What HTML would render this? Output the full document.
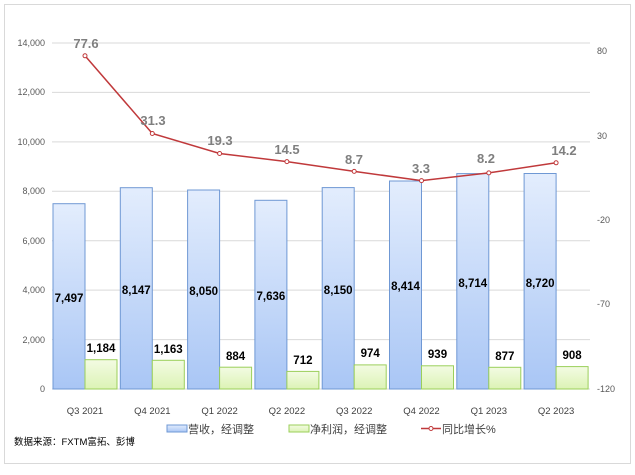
<!DOCTYPE html>
<html><head><meta charset="utf-8"><style>body{margin:0;background:#fff}</style></head><body>
<svg width="635" height="470" xmlns="http://www.w3.org/2000/svg" font-family="'Liberation Sans','Noto Sans CJK SC',sans-serif">
<defs>
<linearGradient id="b" x1="0" y1="0" x2="0" y2="1"><stop offset="0" stop-color="#e3edfd"/><stop offset="1" stop-color="#a9c6f5"/></linearGradient>
<linearGradient id="g" x1="0" y1="0" x2="0" y2="1"><stop offset="0" stop-color="#f3fbe3"/><stop offset="1" stop-color="#dcf3b5"/></linearGradient>
</defs>
<rect x="4.5" y="4.5" width="626" height="459" fill="#fff" stroke="#d9d9d9"/>
<g stroke="#d9d9d9" stroke-width="1">
<line x1="52" x2="590" y1="43" y2="43"/><line x1="52" x2="590" y1="92.4" y2="92.4"/><line x1="52" x2="590" y1="141.9" y2="141.9"/><line x1="52" x2="590" y1="191.3" y2="191.3"/><line x1="52" x2="590" y1="240.7" y2="240.7"/><line x1="52" x2="590" y1="290.1" y2="290.1"/><line x1="52" x2="590" y1="339.6" y2="339.6"/><line x1="52" x2="590" y1="389" y2="389"/>
</g>
<g font-size="9" fill="#595959" text-anchor="end">
<text x="45" y="46">14,000</text><text x="45" y="95">12,000</text><text x="45" y="145">10,000</text><text x="45" y="194">8,000</text><text x="45" y="244">6,000</text><text x="45" y="293">4,000</text><text x="45" y="343">2,000</text><text x="45" y="392">0</text>
</g>
<g font-size="9" fill="#595959">
<text x="597" y="54">80</text><text x="597" y="139">30</text><text x="597" y="223">-20</text><text x="597" y="307">-70</text><text x="597" y="392">-120</text>
</g>
<g stroke-width="1">
<rect x="53" y="203.7" width="32" height="185.3" fill="url(#b)" stroke="#6f98d4"/>
<rect x="120.3" y="187.7" width="32" height="201.3" fill="url(#b)" stroke="#6f98d4"/>
<rect x="187.6" y="190" width="32" height="199" fill="url(#b)" stroke="#6f98d4"/>
<rect x="254.9" y="200.3" width="32" height="188.7" fill="url(#b)" stroke="#6f98d4"/>
<rect x="322.2" y="187.6" width="32" height="201.4" fill="url(#b)" stroke="#6f98d4"/>
<rect x="389.5" y="181" width="32" height="208" fill="url(#b)" stroke="#6f98d4"/>
<rect x="456.8" y="173.6" width="32" height="215.4" fill="url(#b)" stroke="#6f98d4"/>
<rect x="524.1" y="173.5" width="32" height="215.5" fill="url(#b)" stroke="#6f98d4"/>
<rect x="85" y="359.7" width="32" height="29.3" fill="url(#g)" stroke="#9bcf5a"/>
<rect x="152.3" y="360.3" width="32" height="28.7" fill="url(#g)" stroke="#9bcf5a"/>
<rect x="219.6" y="367.2" width="32" height="21.8" fill="url(#g)" stroke="#9bcf5a"/>
<rect x="286.9" y="371.4" width="32" height="17.6" fill="url(#g)" stroke="#9bcf5a"/>
<rect x="354.2" y="364.9" width="32" height="24.1" fill="url(#g)" stroke="#9bcf5a"/>
<rect x="421.5" y="365.8" width="32" height="23.2" fill="url(#g)" stroke="#9bcf5a"/>
<rect x="488.8" y="367.3" width="32" height="21.7" fill="url(#g)" stroke="#9bcf5a"/>
<rect x="556.1" y="366.6" width="32" height="22.4" fill="url(#g)" stroke="#9bcf5a"/>
</g>
<g font-size="11.5" font-weight="bold" fill="#000" text-anchor="middle">
<text x="69" y="302">7,497</text><text x="136.3" y="294">8,147</text><text x="203.6" y="295">8,050</text><text x="270.9" y="300">7,636</text><text x="338.2" y="294">8,150</text><text x="405.5" y="290">8,414</text><text x="472.8" y="287">8,714</text><text x="540.1" y="287">8,720</text>
<text x="101" y="352">1,184</text><text x="168.3" y="353">1,163</text><text x="235.6" y="360">884</text><text x="302.9" y="364">712</text><text x="370.2" y="357">974</text><text x="437.5" y="358">939</text><text x="504.8" y="360">877</text><text x="572.1" y="359">908</text>
</g>
<polyline fill="none" stroke="#c0393b" stroke-width="1.5" points="85,55.8 152.3,133.5 219.6,153.5 286.9,161.6 354.2,171.4 421.5,180.6 488.8,172.9 556.1,162.8"/>
<g fill="#fff" stroke="#c0393b" stroke-width="1"><circle cx="85" cy="55.8" r="2"/><circle cx="152.3" cy="133.5" r="2"/><circle cx="219.6" cy="153.5" r="2"/><circle cx="286.9" cy="161.6" r="2"/><circle cx="354.2" cy="171.4" r="2"/><circle cx="421.5" cy="180.6" r="2"/><circle cx="488.8" cy="172.9" r="2"/><circle cx="556.1" cy="162.8" r="2"/></g>
<g font-size="13" font-weight="bold" fill="#7f7f7f" text-anchor="middle">
<text x="86" y="48">77.6</text><text x="153" y="125">31.3</text><text x="220" y="145">19.3</text><text x="287" y="154">14.5</text><text x="354" y="164">8.7</text><text x="421" y="173">3.3</text><text x="486" y="163">8.2</text><text x="564" y="155">14.2</text>
</g>
<g font-size="9.5" fill="#404040" text-anchor="middle">
<text x="85" y="414">Q3 2021</text><text x="152.3" y="414">Q4 2021</text><text x="219.6" y="414">Q1 2022</text><text x="286.9" y="414">Q2 2022</text><text x="354.2" y="414">Q3 2022</text><text x="421.5" y="414">Q4 2022</text><text x="488.8" y="414">Q1 2023</text><text x="556.1" y="414">Q2 2023</text>
</g>
<rect x="167" y="425" width="20" height="7" fill="url(#b)" stroke="#6f98d4"/>
<text x="188" y="433" font-size="11" fill="#404040">营收，经调整</text>
<rect x="289" y="425" width="20" height="7" fill="url(#g)" stroke="#9bcf5a"/>
<text x="310" y="433" font-size="11" fill="#404040">净利润，经调整</text>
<line x1="421" x2="441" y1="428.5" y2="428.5" stroke="#c0393b" stroke-width="1.5"/><circle cx="431" cy="428.5" r="2" fill="#fff" stroke="#c0393b"/>
<text x="442" y="433" font-size="11" fill="#404040">同比增长%</text>
<text x="14" y="445" font-size="9.5" fill="#000">数据来源：FXTM富拓、彭博</text>
</svg>
</body></html>
